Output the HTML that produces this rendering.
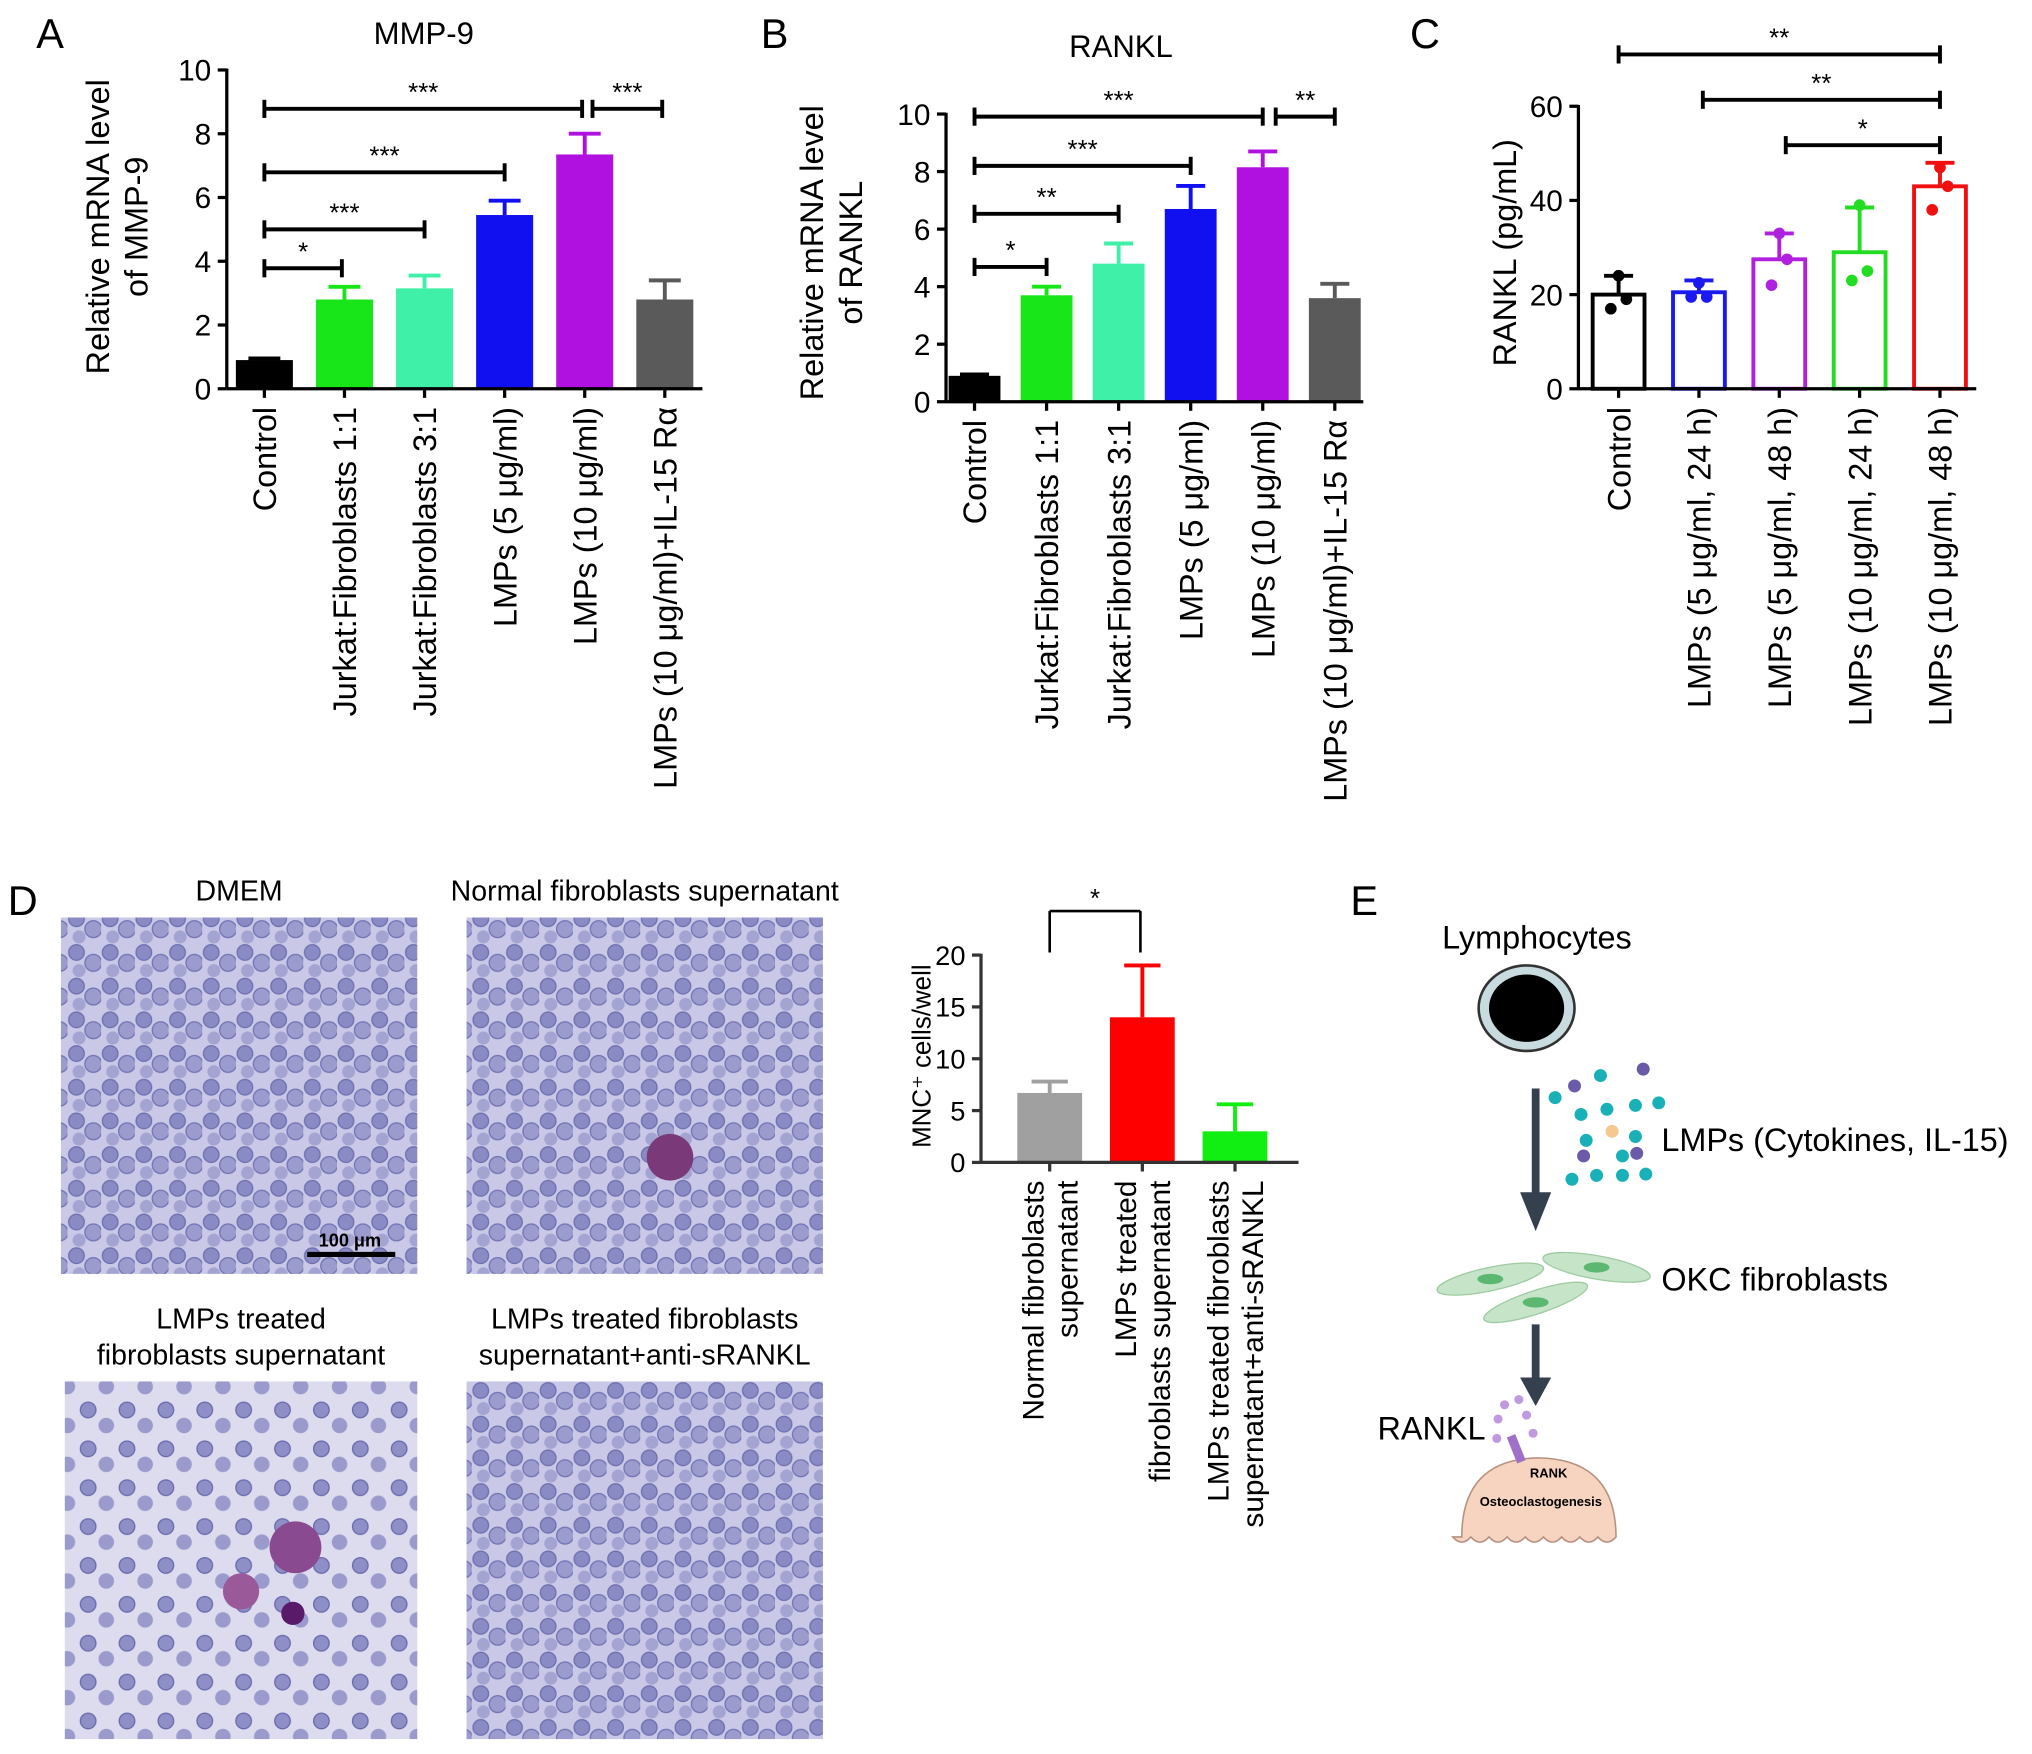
<!DOCTYPE html>
<html><head><meta charset="utf-8"><style>
html,body{margin:0;padding:0;background:#fff;}
svg{display:block;font-family:"Liberation Sans",Arial,sans-serif;}
</style></head><body>
<svg id="fig" width="2032" height="1754" viewBox="0 0 1568 1353.5" xmlns="http://www.w3.org/2000/svg">
<defs>
<pattern id="cells" width="26" height="26" patternUnits="userSpaceOnUse">
<rect width="26" height="26" fill="#c9c8e6"/>
<circle cx="7" cy="7" r="6" fill="#8a8bc4" stroke="#6e6fae" stroke-width="1"/>
<circle cx="20" cy="15" r="6.5" fill="#9b9ccd" stroke="#7273b3" stroke-width="1"/>
<circle cx="9" cy="21" r="5" fill="#a3a4d2"/>
</pattern>
<pattern id="cells2" width="30" height="30" patternUnits="userSpaceOnUse">
<rect width="30" height="30" fill="#dcdcee"/>
<circle cx="8" cy="8" r="6" fill="#8e8fc6" stroke="#6869ad" stroke-width="1"/>
<circle cx="22" cy="20" r="6" fill="#9a9bcc"/>
</pattern>
</defs>
<g id="root"></g>
</svg>
<script>
// Panel A data
const aCats = ["Control","Jurkat:Fibroblasts 1:1","Jurkat:Fibroblasts 3:1","LMPs (5 μg/ml)","LMPs (10 μg/ml)","LMPs (10 μg/ml)+IL-15 Rα"];
const aVals = [0.9, 2.8, 3.15, 5.45, 7.35, 2.8];
const aErr = [0.95, 3.2, 3.55, 5.9, 8.0, 3.4];
const aTicks = [0,2,4,6,8,10];
// Panel B data
const bCats = aCats;
const bVals = [0.9, 3.7, 4.8, 6.7, 8.15, 3.6];
const bErr = [0.95, 4.0, 5.5, 7.5, 8.7, 4.1];
const bTicks = [0,2,4,6,8,10];
// Panel C data
const cCats = ["Control","LMPs (5 μg/ml, 24 h)","LMPs (5 μg/ml, 48 h)","LMPs (10 μg/ml, 24 h)","LMPs (10 μg/ml, 48 h)"];
const cVals = [20, 20.5, 27.5, 29, 43];
const cHi = [24, 23, 33, 38.5, 48];
const cLo = [16, 18.5, 22, 19.5, 38];
const cPts = [[24,17,19],[22.5,19.5,19.5],[33,22,27.5],[39,23,25],[47,38,43]];
const cTicks = [0,20,40,60];
// Panel D data
const dCats = [["Normal fibroblasts","supernatant"],["LMPs treated","fibroblasts supernatant"],["LMPs treated fibroblasts","supernatant+anti-sRANKL"]];
const dVals = [6.7, 14, 3];
const dErr = [7.8, 19, 5.6];
const dTicks = [0,5,10,15,20];

const NS="http://www.w3.org/2000/svg";
const root=document.getElementById('root');
function el(tag,attrs,parent,text){const e=document.createElementNS(NS,tag);for(const k in attrs)e.setAttribute(k,attrs[k]);if(text!==undefined)e.textContent=text;(parent||root).appendChild(e);return e;}
function line(x1,y1,x2,y2,w,c,p){return el('line',{x1,y1,x2,y2,stroke:c||'#000','stroke-width':w||2},p);}

function barChart(o){
  const g=el('g',{});
  
  
  const y=v=>o.y0-(v-o.min)/(o.max-o.min)*(o.y0-o.y1);
  const x=i=>o.x0+o.first+i*o.step;
  o.vals.forEach((v,i)=>{
    const hi=o.err[i];
    const lo=o.lo?o.lo[i]:null;
    line(x(i),y(v),x(i),y(hi),o.ew||3,o.colors[i],g);
    line(x(i)-o.bw*0.28,y(hi),x(i)+o.bw*0.28,y(hi),o.ew||3,o.colors[i],g);
    if(lo!==null){line(x(i),y(v),x(i),y(lo),3,o.colors[i],g);line(x(i)-o.bw*0.28,y(lo),x(i)+o.bw*0.28,y(lo),3,o.colors[i],g);}
    const r=el('rect',o.open?{x:x(i)-o.bw/2,y:y(v),width:o.bw,height:o.y0-y(v),fill:'#fff',stroke:o.colors[i],'stroke-width':3}:{x:x(i)-o.bw/2,y:y(v),width:o.bw,height:o.y0-y(v),fill:o.colors[i]},g);
    
    
    if(o.pts){o.pts[i].forEach((p,k)=>el('circle',{cx:x(i)+([0,-6,6][k]),cy:y(p),r:4.5,fill:o.colors[i]},g));}
  });
  line(o.x0,o.y0,o.x0,y(o.ticks[o.ticks.length-1])-1,2.5,o.axc||'#000',g);
  line(o.x0,o.y0,o.x1,o.y0,2.5,o.axc||'#000',g);
  o.ticks.forEach(t=>{line(o.x0-7,y(t),o.x0,y(t),2.5,o.axc||'#000',g);
    const tl=el('text',{x:o.x0-12,y:y(t)+o.tkfs*0.36,'font-size':o.tkfs,'text-anchor':'end'},g,String(t));
    });
  o.cats.forEach((c,i)=>{line(x(i),o.y0,x(i),o.y0+7,2.5,o.axc||'#000',g);
    const lines=Array.isArray(c)?c:[c];
    lines.forEach((s,k)=>{const off=(k-(lines.length-1)/2)*o.fs*1.15;
      const t=el('text',{x:0,y:0,'font-size':o.fs,'text-anchor':'end',transform:`translate(${x(i)+off+o.fs*0.36},${o.y0+14}) rotate(-90)`},g,s);
      });
  });
  (o.sig||[]).forEach(s=>{const yy=s[0];line(x(s[1])-(s[4]||0),yy,x(s[2])+(s[5]||0),yy,3,'#000',g);
    line(x(s[1])-(s[4]||0),yy-7,x(s[1])-(s[4]||0),yy+7,3,'#000',g);line(x(s[2])+(s[5]||0),yy-7,x(s[2])+(s[5]||0),yy+7,3,'#000',g);
    const t=el('text',{x:(x(s[1])-(s[4]||0)+x(s[2])+(s[5]||0))/2,y:yy-6,'font-size':20,'text-anchor':'middle'},g,s[3]);
    });
  o.ytitle.forEach((s,k)=>{const t=el('text',{x:0,y:0,'font-size':o.tfs,'text-anchor':'middle',transform:`translate(${o.tx+k*o.tfs*1.2},${o.ty}) rotate(-90)`},g,s);
    });
  return g;
}
const A_col=['#000','#19e619','#3ff0a8','#1010f0','#b010e0','#5a5a5a'];
barChart({name:'chart-a-mmp9',x0:175,x1:542,y0:300,y1:54,min:0,max:10,first:29,step:61.8,bw:44,vals:aVals,err:aErr,colors:A_col,ticks:aTicks,cats:aCats,fs:25,tkfs:23,tfs:25,
  ytitle:['Relative mRNA level','of MMP-9'],tx:84,ty:175,
  sig:[[207,0,1,'*',0,-2],[177,0,2,'***'],[133,0,3,'***'],[84,0,4,'***',0,-2],[84,4,5,'***',-6,-2]]});
barChart({name:'chart-b-rankl',x0:730,x1:1052,y0:310,y1:88,min:0,max:10,first:22,step:55.6,bw:40,vals:bVals,err:bErr,colors:A_col,ticks:bTicks,cats:bCats,fs:25,tkfs:23,tfs:25,
  ytitle:['Relative mRNA level','of RANKL'],tx:635,ty:195,
  sig:[[206,0,1,'*'],[165,0,2,'**'],[128,0,3,'***'],[90,0,4,'***'],[90,4,5,'**',-10,0]]});
barChart({name:'chart-c-rankl-elisa',x0:1218,x1:1525,y0:300,y1:82,min:0,max:60,first:31,step:62,bw:40,vals:cVals,err:cHi,lo:cLo,pts:cPts,open:true,colors:['#000','#1a1af0','#b020e0','#22dd22','#f01010'],ticks:cTicks,cats:cCats,fs:25,tkfs:23,tfs:25,
  ytitle:['RANKL (pg/mL)'],tx:1170,ty:195,
  sig:[[42,0,4,'**'],[77,1,4,'**',-3,0],[112,2,4,'*',-5,0]]});
barChart({name:'chart-d-mnc',x0:757,x1:1002,y0:897,y1:737,min:0,max:20,first:53,step:71.5,bw:50,vals:dVals,err:dErr,colors:['#a0a0a0','#ff0000','#11ee11'],ticks:dTicks,cats:dCats,fs:23,tkfs:21,axc:'#333',tfs:20,
  ytitle:['MNC⁺ cells/well'],tx:718,ty:815});
line(810,703,880,703,2,'#000');line(810,703,810,735,2,'#000');line(880,703,880,735,2,'#000');
el('text',{x:845,y:700,'font-size':20,'text-anchor':'middle'},root,'*');

[['A',28,37],['B',587,37],['C',1088,37],['D',6,706],['E',1042,706]].forEach(l=>{const t=el('text',{x:l[1],y:l[2],'font-size':32},root,l[0]);});
el('text',{x:327,y:34,'font-size':24,'text-anchor':'middle'},root,'MMP-9');
el('text',{x:865,y:44,'font-size':24,'text-anchor':'middle'},root,'RANKL');

const imgs=[[47,708,275,275,'url(#cells)','DMEM'],[360,708,275,275,'url(#cells)','Normal fibroblasts supernatant'],[50,1066,272,276,'url(#cells2)','LMPs treated|fibroblasts supernatant'],[360,1066,275,276,'url(#cells)','LMPs treated fibroblasts|supernatant+anti-sRANKL']];
imgs.forEach((m,i)=>{const r=el('rect',{x:m[0],y:m[1],width:m[2],height:m[3],fill:m[4]});
  const ls=m[5].split('|');ls.forEach((s,k)=>el('text',{x:m[0]+m[2]/2,y:m[1]-13-(ls.length-1-k)*28,'font-size':22,'text-anchor':'middle'},root,s));});
el('circle',{cx:517,cy:893,r:18,fill:'#7a3a7a'});el('circle',{cx:228,cy:1194,r:20,fill:'#8a4a90'});el('circle',{cx:226,cy:1245,r:9,fill:'#5a1a6a'});el('circle',{cx:186,cy:1228,r:14,fill:'#9a5a9a'});
line(237,968,305,968,4,'#000');el('text',{x:270,y:962,'font-size':14,'font-weight':'bold','text-anchor':'middle'},root,'100 μm');

el('text',{x:1186,y:732,'font-size':25,'text-anchor':'middle'},root,'Lymphocytes');
el('ellipse',{cx:1178,cy:778,rx:37,ry:33,fill:'#c8dce0',stroke:'#333','stroke-width':2});
el('ellipse',{cx:1178,cy:778,rx:29,ry:26,fill:'#000'});
line(1185,840,1185,935,6,'#34404e');el('polygon',{points:'1173,920 1197,920 1185,950',fill:'#34404e'});
[[1200,847,'#1ab0b8'],[1215,838,'#6a5aa8'],[1235,830,'#1ab0b8'],[1268,825,'#6a5aa8'],[1220,860,'#1ab0b8'],[1240,856,'#1ab0b8'],[1262,853,'#1ab0b8'],[1280,851,'#1ab0b8'],[1244,873,'#f4c890'],[1224,880,'#1ab0b8'],[1262,877,'#1ab0b8'],[1222,892,'#6a5aa8'],[1252,892,'#1ab0b8'],[1263,890,'#6a5aa8'],[1213,910,'#1ab0b8'],[1232,907,'#1ab0b8'],[1252,907,'#1ab0b8'],[1270,906,'#1ab0b8']].forEach(c=>el('circle',{cx:c[0],cy:c[1],r:5,fill:c[2]}));
el('text',{x:1282,y:888,'font-size':25},root,'LMPs (Cytokines, IL-15)');
[[1150,987,-12],[1232,978,10],[1185,1005,-18]].forEach(f=>{el('ellipse',{cx:f[0],cy:f[1],rx:42,ry:9,fill:'#c6e4c8',stroke:'#9fcaa2',transform:`rotate(${f[2]} ${f[0]} ${f[1]})`});el('ellipse',{cx:f[0],cy:f[1],rx:10,ry:4,fill:'#5cb870'});});
el('text',{x:1282,y:996,'font-size':25},root,'OKC fibroblasts');
line(1185,1022,1185,1070,6,'#34404e');el('polygon',{points:'1173,1063 1197,1063 1185,1085',fill:'#34404e'});
[[1161,1084],[1172,1080],[1156,1095],[1178,1092],[1155,1110],[1183,1106]].forEach(c=>el('circle',{cx:c[0],cy:c[1],r:3.5,fill:'#c09ae0'}));
el('text',{x:1063,y:1111,'font-size':25},root,'RANKL');
el('path',{d:'M1128,1186 Q1128,1126 1187,1125 Q1247,1126 1247,1186 q-7,8 -14,0 q-7,8 -14,0 q-7,8 -14,0 q-7,8 -14,0 q-7,8 -14,0 q-7,8 -14,0 q-7,8 -14,0 q-7,8 -14,0 q-7,8 -14,0z',fill:'#f7d4bf',stroke:'#b89080','stroke-width':1.2});
line(1166,1108,1174,1128,7,'#a070c8');
el('text',{x:1195,y:1140,'font-size':10,'font-weight':'bold','text-anchor':'middle'},root,'RANK');
el('text',{x:1189,y:1162,'font-size':10,'font-weight':'bold','text-anchor':'middle'},root,'Osteoclastogenesis');
</script>
</body></html>
